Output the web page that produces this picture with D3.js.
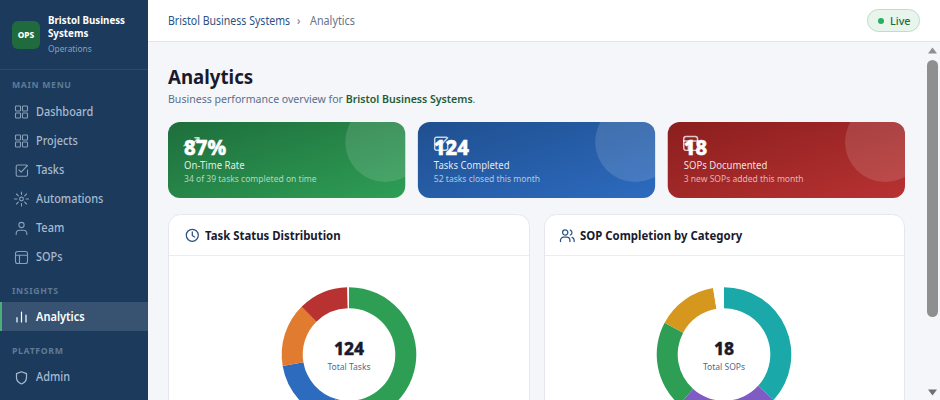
<!DOCTYPE html>
<html><head><meta charset="utf-8">
<style>
html,body{margin:0;padding:0;background:#f4f6f9;overflow:hidden;width:940px;height:400px}
svg{display:block;font-family:"Noto Sans",sans-serif}
</style>
<script src="https://cdn.jsdelivr.net/npm/d3@7/dist/d3.min.js"></script>
</head><body><svg id="page" width="940" height="400"></svg>
<script>
// ---- data ----
const taskCategories=["Done","In Progress","Review","Overdue","Rest"];
const taskValues=[68,22,19,15,0.5];
const taskColors=["#2e9e55","#2d6bbf","#e07b30","#b83232","#ffffff"];
const taskTotal="124", taskLabel="Total Tasks";
const sopCategories=["Operations","Delivery","Finance","People","Rest"];
const sopValues=[36.8,24.8,21.2,14.6,2.6];
const sopColors=["#1aa8a8","#7e5cc4","#2e9e55","#d6971f","#ffffff"];
const sopTotal="18", sopLabel="Total SOPs";
const kpiValues=["87%","124","18"];
const kpiLabels=["On-Time Rate","Tasks Completed","SOPs Documented"];
const kpiNotes=["34 of 39 tasks completed on time","52 tasks closed this month","3 new SOPs added this month"];
const kpiFrom=["#1e6e3c","#1f4f8f","#8b1e1e"];
const kpiTo=["#2e9e55","#2d6bbf","#b83232"];
const kpiIcons=["trend","check","table"];
const menuMain=["Dashboard","Projects","Tasks","Automations","Team","SOPs"];
const menuIcons=["grid","grid","check","sun","user","table"];

const svg=d3.select("#page");
const defs=svg.append("defs");
const navy="#1b3a5c";
const REG=.91, BOLD=.94;
function T(sel,x,y,s,size,fill,weight,extra,fx){
  const w=weight||400;
  const k=fx||(w>=600?BOLD:REG);
  const t=sel.append("text").attr("transform",`translate(${x},${y}) scale(${k},1)`).attr("font-size",size).attr("fill",fill).attr("font-weight",w).text(s);
  if(extra)Object.entries(extra).forEach(([a,v])=>t.attr(a,v));
  return t;
}
const icons={
 grid:(g)=>{[[0,0],[7,0],[0,7],[7,7]].forEach(p=>g.append("rect").attr("x",p[0]).attr("y",p[1]).attr("width",5).attr("height",5).attr("rx",.8));},
 check:(g)=>{g.append("path").attr("d","M11 1H2.2A1.5 1.5 0 0 0 .7 2.5v8.3a1.5 1.5 0 0 0 1.5 1.5h8.3a1.5 1.5 0 0 0 1.5-1.5V6M3.5 6l2.2 2.2L12 1.5");},
 sun:(g)=>{g.append("circle").attr("cx",6).attr("cy",6).attr("r",1.9);
   g.append("path").attr("d","M6-1v2.5M6 10.5V13M-1 6h2.5M10.5 6H13M1 1l1.8 1.8M9.2 9.2L11 11M11 1L9.2 2.8M2.8 9.2L1 11");},
 user:(g)=>{g.append("circle").attr("cx",6).attr("cy",3).attr("r",2.6);
   g.append("path").attr("d","M.7 12.5v-1.3a3 3 0 0 1 3-3h4.6a3 3 0 0 1 3 3v1.3");},
 table:(g)=>{g.append("rect").attr("x",0).attr("y",.5).attr("width",12).attr("height",12).attr("rx",2);
   g.append("path").attr("d","M0 4.3h12M4 4.3v8.2");},
 bars:(g)=>{g.append("path").attr("d","M1.5 11V6.5M6 11V1M10.5 11V4");},
 shield:(g)=>{g.append("path").attr("d","M6 13C2.5 11.5 1 9.5 1 6.500V2.600L6 .8l5 1.800v3.900C11 9.500 9.500 11.500 6 13z");},
 clock:(g)=>{g.append("circle").attr("cx",6).attr("cy",6).attr("r",5.7);g.append("path").attr("d","M6 2.800V6.200L8.200 7.600");},
 trend:(g)=>{g.append("path").attr("d","M0 8.500L4.500 5l2.500 2L13 1.500M9.500 1.500H13V5");},
 users:(g)=>{g.append("circle").attr("cx",4.500).attr("cy",3.300).attr("r",2.500);
   g.append("path").attr("d","M0 12v-1.200a3 3 0 0 1 3-3h3a3 3 0 0 1 3 3V12M9.300 1a2.500 2.500 0 0 1 0 4.700M11 7.900a3 3 0 0 1 2 2.900V12");}
};
function icon(sel,name,x,y,color,sw,scale){
  const g=sel.append("g").attr("transform",`translate(${x},${y}) scale(${scale||1})`)
    .attr("fill","none").attr("stroke",color).attr("stroke-width",sw||1.1).attr("stroke-linecap","round").attr("stroke-linejoin","round");
  icons[name](g);return g;
}

// ---- top bar ----
svg.append("rect").attr("x",148).attr("y",0).attr("width",792).attr("height",41).attr("fill","#fff");
svg.append("rect").attr("x",148).attr("y",41).attr("width",792).attr("height",1).attr("fill","#e2e6ec");
T(svg,168,25,"Bristol Business Systems",12,"#2c5282",400,null,.88);
T(svg,297,25,"›",12,"#64748b");
T(svg,310,25,"Analytics",12,"#64748b",400,null,.9);
svg.append("rect").attr("x",867.5).attr("y",9.5).attr("width",52).attr("height",22).attr("rx",11).attr("fill","#e8f5ec").attr("stroke","#b9dfc5");
svg.append("circle").attr("cx",881).attr("cy",21).attr("r",3).attr("fill","#27ae60");
T(svg,890,25,"Live",11,"#1e6e3c",500,null,.98);

// ---- heading ----
T(svg,168,84,"Analytics",20,"#1a1a2e",700,null,.934);
const sub=T(svg,168,103,"Business performance overview for ",11.5,"#5a6f8c",400,null,.92);
sub.append("tspan").attr("fill","#1e5c38").attr("font-weight",600).text("Bristol Business Systems");
sub.append("tspan").text(".");

// ---- KPI cards ----
const cardX=d3.scaleBand().domain(d3.range(kpiValues.length)).range([168,905]).paddingInner(0.0505);
kpiValues.forEach((v,i)=>{
  const x=cardX(i),w=cardX.bandwidth();
  const gr=defs.append("linearGradient").attr("id","kpi"+i).attr("x1",0).attr("y1",0).attr("x2",1).attr("y2",1);
  gr.append("stop").attr("offset","0%").attr("stop-color",kpiFrom[i]);
  gr.append("stop").attr("offset","100%").attr("stop-color",kpiTo[i]);
  defs.append("clipPath").attr("id","clip"+i).append("rect").attr("x",x).attr("y",122).attr("width",w).attr("height",76).attr("rx",12);
  const g=svg.append("g");
  g.append("rect").attr("x",x).attr("y",122).attr("width",w).attr("height",76).attr("rx",12).attr("fill",`url(#kpi${i})`);
  g.append("circle").attr("cx",x+w-20).attr("cy",142).attr("r",40).attr("fill","#fff").attr("fill-opacity",.13).attr("clip-path",`url(#clip${i})`);
  icon(g,kpiIcons[i],x+16,136,"#fff",1.3,1.15).attr("stroke-opacity",.75);
  T(g,x+16,155,v,22,"#fff",800,{stroke:"#fff","stroke-width":.5},.92);
  T(g,x+16,169,kpiLabels[i],10.5,"#fff",400,{"fill-opacity":.88});
  T(g,x+16,182,kpiNotes[i],9.5,"#fff",400,{"fill-opacity":.66},.9);
});

// ---- panels with donuts ----
const panels=[
 {x:168,w:362,ix:186,tx:205,icon:"clock",title:"Task Status Distribution",vals:taskValues,cols:taskColors,total:taskTotal,label:taskLabel,cx:349},
 {x:544,w:361,ix:560.5,tx:580,icon:"users",title:"SOP Completion by Category",vals:sopValues,cols:sopColors,total:sopTotal,label:sopLabel,cx:724}
];
const pie=d3.pie().sort(null);
const arc=d3.arc().innerRadius(46.3).outerRadius(67.3);
panels.forEach(p=>{
  const g=svg.append("g");
  g.append("rect").attr("x",p.x+.5).attr("y",214.5).attr("width",p.w-1).attr("height",260).attr("rx",12).attr("fill","#fff").attr("stroke","#e4e8ee");
  g.append("rect").attr("x",p.x+1).attr("y",255).attr("width",p.w-2).attr("height",1).attr("fill","#e9ecf1");
  icon(g,p.icon,p.ix,229,"#2c5282",1.2,1.05);
  T(g,p.tx,240,p.title,12,"#1a1a2e",700,null,.95);
  const d=g.append("g").attr("transform",`translate(${p.cx},354.5)`);
  d.selectAll("path").data(pie(p.vals)).join("path").attr("d",arc).attr("fill",(e,i)=>p.cols[i]);
  T(d,0,0,p.total,18,"#1a1a2e",800,{"text-anchor":"middle",stroke:"#1a1a2e","stroke-width":.35},.97);
  T(d,0,15,p.label,9.5,"#4f6a8f",400,{"text-anchor":"middle"},.9);
});

// ---- scrollbar ----
svg.append("rect").attr("x",925).attr("y",42).attr("width",15).attr("height",358).attr("fill","#f4f6f9");
svg.append("rect").attr("x",927).attr("y",60).attr("width",11).attr("height",257).attr("rx",5.5).attr("fill","#8f8f8f");
svg.append("path").attr("d","M932.5 47.5L937 53.5H928Z").attr("fill","#8f8f8f");
svg.append("path").attr("d","M932.5 395.5L937 389.5H928Z").attr("fill","#6f6f6f");

// ---- sidebar ----
svg.append("rect").attr("width",148).attr("height",400).attr("fill",navy);
svg.append("rect").attr("x",0).attr("y",69).attr("width",148).attr("height",1).attr("fill","#2a4a6e");
svg.append("rect").attr("x",12).attr("y",21).attr("width",28).attr("height",28).attr("rx",6).attr("fill","#1f6b3e");
T(svg,26,38,"OPS",8.5,"#fff",800,{"text-anchor":"middle"},.98);
T(svg,48,24,"Bristol Business",10.5,"#fff",700,null,.93);
T(svg,48,37,"Systems",10.5,"#fff",700,null,.93);
T(svg,48,52,"Operations",9.5,"#8aa0b8",400,null,.88);
const sectionColor="#5f7a96", itemColor="#a9bad0";
const section=(s,y)=>T(svg,12,y,s,9.5,sectionColor,700,{"letter-spacing":".7"},.92);
section("MAIN MENU",88);
menuMain.forEach((m,i)=>{
  const y=112+i*29;
  icon(svg,menuIcons[i],15.5,y-6,"#8aa0b8",1.1);
  T(svg,36,y+4,m,12,itemColor,500,null,.91);
});
section("INSIGHTS",294);
svg.append("rect").attr("x",0).attr("y",302).attr("width",148).attr("height",29).attr("fill","#fff").attr("fill-opacity",.13);
svg.append("rect").attr("x",0).attr("y",302).attr("width",2).attr("height",29).attr("fill","#4caf7a");
icon(svg,"bars",15.5,311,"#fff",1.2);
T(svg,36,321,"Analytics",12,"#fff",600,null,.92);
section("PLATFORM",354);
icon(svg,"shield",15.5,371,"#a9bad0",1.2);
T(svg,36,381,"Admin",12,itemColor,500,null,.91);
</script></body></html>
